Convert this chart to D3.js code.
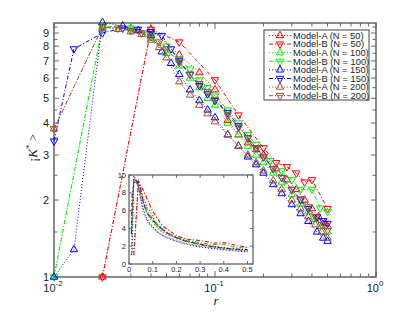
<!DOCTYPE html>
<html>
<head>
<meta charset="utf-8">
<script src="https://cdn.jsdelivr.net/npm/d3@7"></script>
<style>
  body { margin: 0; background: #fff; }
  text { font-family: "Liberation Sans", Arial, sans-serif; fill: #222; }
  .serif { font-family: "Liberation Serif", "Times New Roman", serif; }
</style>
</head>
<body>
<div id="chart"></div>
<script>
// ---- data ----
const legendLabels = [
  "Model-A (N = 50)", "Model-B (N = 50)",
  "Model-A (N = 100)", "Model-B (N = 100)",
  "Model-A (N = 150)", "Model-B (N = 150)",
  "Model-A (N = 200)", "Model-B (N = 200)"
];

const rA50 = [0.02, 0.04, 0.06, 0.08, 0.10, 0.12, 0.14, 0.16, 0.18, 0.20, 0.24, 0.28, 0.32, 0.36, 0.40, 0.44, 0.48, 0.50];
const kA50 = [1.0, 9.3, 7.4, 6.3, 5.4, 4.1, 3.6, 3.35, 3.15, 3.0, 2.65, 2.4, 2.2, 2.0, 1.85, 1.72, 1.62, 1.58];

const rB50 = [0.02, 0.04, 0.06, 0.10, 0.14, 0.20, 0.24, 0.28, 0.32, 0.36, 0.40, 0.50];
const kB50 = [1.0, 9.3, 8.3, 5.9, 4.3, 3.2, 2.8, 2.7, 2.55, 2.35, 2.4, 1.85];

const rA100 = [0.01, 0.02, 0.03, 0.04, 0.05, 0.06, 0.07, 0.08, 0.09, 0.10, 0.12, 0.14, 0.16, 0.18, 0.20, 0.23, 0.26, 0.30, 0.34, 0.38, 0.42, 0.46, 0.50];
const kA100 = [1.0, 9.5, 9.4, 8.6, 7.5, 6.7, 6.0, 5.5, 5.0, 4.7, 4.0, 3.6, 3.25, 3.0, 2.8, 2.55, 2.35, 2.1, 1.93, 1.8, 1.68, 1.58, 1.5];

const rB100 = [0.01, 0.02, 0.03, 0.04, 0.05, 0.06, 0.07, 0.08, 0.09, 0.10, 0.12, 0.14, 0.16, 0.18, 0.22, 0.26, 0.30, 0.34, 0.40, 0.45, 0.50];
const kB100 = [1.0, 9.6, 9.4, 8.9, 8.0, 7.1, 6.5, 5.9, 5.5, 5.1, 4.5, 4.0, 3.6, 3.3, 2.85, 2.6, 2.4, 2.2, 2.2, 1.86, 1.8];

const rA150 = [0.01, 0.0133, 0.02, 0.0267, 0.0333, 0.04, 0.0467, 0.0533, 0.06, 0.07, 0.08, 0.09, 0.10, 0.12, 0.14, 0.16, 0.18, 0.20, 0.23, 0.26, 0.30, 0.34, 0.38, 0.43, 0.47, 0.50];
const kA150 = [1.0, 1.28, 9.9, 9.6, 9.2, 8.8, 7.6, 6.85, 6.2, 5.4, 4.9, 4.5, 4.2, 3.6, 3.25, 2.95, 2.75, 2.55, 2.3, 2.12, 1.92, 1.77, 1.65, 1.5, 1.42, 1.38];

const rB150 = [0.01, 0.0133, 0.02, 0.0267, 0.0333, 0.04, 0.0467, 0.0533, 0.06, 0.07, 0.08, 0.09, 0.10, 0.12, 0.14, 0.16, 0.18, 0.20, 0.23, 0.26, 0.30, 0.34, 0.38, 0.43, 0.47, 0.50];
const kB150 = [3.4, 7.8, 9.0, 9.4, 9.3, 9.1, 8.8, 7.8, 7.0, 6.2, 5.6, 5.2, 4.9, 4.4, 3.9, 3.5, 3.2, 2.95, 2.65, 2.45, 2.2, 2.0, 1.85, 1.72, 1.66, 1.62];

const rA200 = [0.01, 0.02, 0.025, 0.03, 0.035, 0.04, 0.045, 0.05, 0.06, 0.07, 0.08, 0.09, 0.10, 0.12, 0.14, 0.16, 0.18, 0.20, 0.23, 0.26, 0.30, 0.34, 0.38, 0.42, 0.46, 0.50];
const kA200 = [3.8, 9.5, 9.3, 9.1, 8.9, 8.45, 7.9, 7.2, 5.8, 5.15, 4.7, 4.35, 4.05, 3.6, 3.25, 3.0, 2.8, 2.6, 2.38, 2.2, 2.0, 1.85, 1.72, 1.6, 1.5, 1.42];

const rB200 = [0.01, 0.02, 0.025, 0.03, 0.035, 0.04, 0.045, 0.05, 0.06, 0.07, 0.08, 0.09, 0.10, 0.12, 0.14, 0.16, 0.18, 0.20, 0.23, 0.26, 0.30, 0.34, 0.38, 0.42, 0.46, 0.50];
const kB200 = [3.8, 9.5, 9.4, 9.2, 9.0, 8.7, 8.3, 7.8, 6.9, 6.2, 5.7, 5.3, 4.95, 4.3, 3.85, 3.5, 3.2, 2.95, 2.65, 2.45, 2.2, 2.02, 1.88, 1.72, 1.6, 1.52];

const yTickLabels = [1, 2, 3, 4, 5, 6, 7, 8, 9];
const xTickExps = [-2, -1, 0];
const insetXTicks = [0, 0.1, 0.2, 0.3, 0.4, 0.5];
const insetYTicks = [0, 2, 4, 6, 8, 10];

// ---- styling ----
const colors = ["#ff0000", "#ff0000", "#00ee00", "#00ee00", "#0000ff", "#0000ff", "#a0522d", "#a0522d"];
const isB = [false, true, false, true, false, true, false, true];
const dashA = "1,2", dashB = "4,2,1,2";

const series = [
  [rA50, kA50], [rB50, kB50], [rA100, kA100], [rB100, kB100],
  [rA150, kA150], [rB150, kB150], [rA200, kA200], [rB200, kB200]
].map(([r, k], i) => ({
  name: legendLabels[i], color: colors[i], down: isB[i],
  pts: r.map((x, j) => ({ r: x, k: k[j] }))
}));

const W = 415, H = 312;
const svg = d3.select("#chart").append("svg").attr("width", W).attr("height", H);

const plot = { left: 54, right: 376, top: 23, bottom: 277 };
const x = d3.scaleLog().domain([0.01, 1]).range([plot.left, plot.right]);
const y = d3.scaleLog().domain([1, 9.85]).range([plot.bottom, plot.top]);

const axisColor = "#666";

// frame
svg.append("rect")
  .attr("x", plot.left).attr("y", plot.top)
  .attr("width", plot.right - plot.left).attr("height", plot.bottom - plot.top)
  .attr("fill", "none").attr("stroke", axisColor).attr("stroke-width", 1.5);

// x ticks (major + minor, inward, top and bottom)
const xTicksAll = [];
[0.01, 0.1].forEach(d => { for (let m = 1; m < 10; m++) xTicksAll.push(d * m); });
xTicksAll.push(1);
const gT = svg.append("g").attr("stroke", axisColor).attr("stroke-width", 1);
xTicksAll.forEach(t => {
  const major = Math.abs(Math.log10(t) - Math.round(Math.log10(t))) < 1e-9;
  const len = major ? 6 : 3.5;
  gT.append("line").attr("x1", x(t)).attr("x2", x(t)).attr("y1", plot.bottom).attr("y2", plot.bottom - len);
  gT.append("line").attr("x1", x(t)).attr("x2", x(t)).attr("y1", plot.top).attr("y2", plot.top + len);
});
// y ticks every 0.5
for (let v = 1; v <= 9.5; v += 0.5) {
  const len = Number.isInteger(v) ? 5 : 3.5;
  gT.append("line").attr("x1", plot.left).attr("x2", plot.left + len).attr("y1", y(v)).attr("y2", y(v));
  gT.append("line").attr("x1", plot.right).attr("x2", plot.right - len).attr("y1", y(v)).attr("y2", y(v));
}

// tick labels
svg.append("g").selectAll("text").data(yTickLabels).join("text")
  .attr("x", plot.left - 5).attr("y", d => y(d) + 4)
  .attr("text-anchor", "end").attr("font-size", 11).text(d => d);

xTickExps.forEach(e => {
  const t = svg.append("text").attr("x", x(Math.pow(10, e)) - 1).attr("y", 292)
    .attr("text-anchor", "middle").attr("font-size", 11);
  t.append("tspan").text("10");
  t.append("tspan").attr("dy", -6).attr("font-size", 8).text(e);
});

// axis labels
svg.append("text").attr("class", "serif")
  .attr("x", 216).attr("y", 305).attr("text-anchor", "middle")
  .attr("font-size", 13).attr("font-style", "italic").text("r");

const yl = svg.append("text").attr("class", "serif")
  .attr("transform", "translate(37,148) rotate(-90)")
  .attr("text-anchor", "middle").attr("font-size", 13);
yl.append("tspan").text("¡");
yl.append("tspan").attr("font-style", "italic").text("K");
yl.append("tspan").attr("dy", -5).attr("font-size", 9).text("*");
yl.append("tspan").attr("dy", 5).text(" >");

// series
const tri = d3.symbol().type(d3.symbolTriangle).size(24);
function drawSeries(g, sx, sy, markers, lw) {
  series.forEach(s => {
    g.append("path").datum(s.pts)
      .attr("fill", "none").attr("stroke", s.color).attr("stroke-width", lw)
      .attr("stroke-dasharray", s.down ? dashB : dashA)
      .attr("d", d3.line().x(d => sx(d.r)).y(d => sy(d.k)));
    if (markers) {
      g.append("g").selectAll("path").data(s.pts).join("path")
        .attr("d", tri)
        .attr("transform", d => `translate(${sx(d.r)},${sy(d.k)})` + (s.down ? " rotate(180)" : ""))
        .attr("fill", "none").attr("stroke", s.color).attr("stroke-width", 1);
    }
  });
}
drawSeries(svg.append("g"), x, y, true, 1);

// inset
const inset = { left: 129, right: 253, top: 175, bottom: 264 };
const ix = d3.scaleLinear().domain([0, 0.523]).range([inset.left, inset.right]);
const iy = d3.scaleLinear().domain([0, 10]).range([inset.bottom, inset.top]);
const gi = svg.append("g");
gi.append("rect")
  .attr("x", inset.left).attr("y", inset.top)
  .attr("width", inset.right - inset.left).attr("height", inset.bottom - inset.top)
  .attr("fill", "#fff");
drawSeries(gi, ix, iy, false, 1.1);
gi.append("rect")
  .attr("x", inset.left).attr("y", inset.top)
  .attr("width", inset.right - inset.left).attr("height", inset.bottom - inset.top)
  .attr("fill", "none").attr("stroke", axisColor).attr("stroke-width", 1.3);
insetXTicks.forEach(t => {
  gi.append("line").attr("x1", ix(t)).attr("x2", ix(t)).attr("y1", inset.bottom).attr("y2", inset.bottom - 3).attr("stroke", axisColor);
  gi.append("line").attr("x1", ix(t)).attr("x2", ix(t)).attr("y1", inset.top).attr("y2", inset.top + 3).attr("stroke", axisColor);
  gi.append("text").attr("x", ix(t)).attr("y", inset.bottom + 8)
    .attr("text-anchor", "middle").attr("font-size", 7.5).text(t);
});
insetYTicks.forEach(t => {
  gi.append("line").attr("x1", inset.left).attr("x2", inset.left + 3).attr("y1", iy(t)).attr("y2", iy(t)).attr("stroke", axisColor);
  gi.append("line").attr("x1", inset.right).attr("x2", inset.right - 3).attr("y1", iy(t)).attr("y2", iy(t)).attr("stroke", axisColor);
  gi.append("text").attr("x", inset.left - 3).attr("y", iy(t) + 2.5)
    .attr("text-anchor", "end").attr("font-size", 7.5).text(t);
});

// legend
const lg = svg.append("g");
lg.append("rect").attr("x", 264).attr("y", 30).attr("width", 105).attr("height", 70)
  .attr("fill", "#fff").attr("stroke", "#444").attr("stroke-width", 1);
series.forEach((s, i) => {
  const cy = 35.5 + i * 8.6;
  lg.append("line").attr("x1", 269).attr("x2", 291).attr("y1", cy).attr("y2", cy)
    .attr("stroke", s.color).attr("stroke-dasharray", s.down ? dashB : dashA);
  lg.append("path").attr("d", tri)
    .attr("transform", `translate(280,${cy})` + (s.down ? " rotate(180)" : ""))
    .attr("fill", "none").attr("stroke", s.color);
  lg.append("text").attr("x", 293).attr("y", cy + 3.3).attr("font-size", 9.3).text(s.name);
});
</script>
</body>
</html>
